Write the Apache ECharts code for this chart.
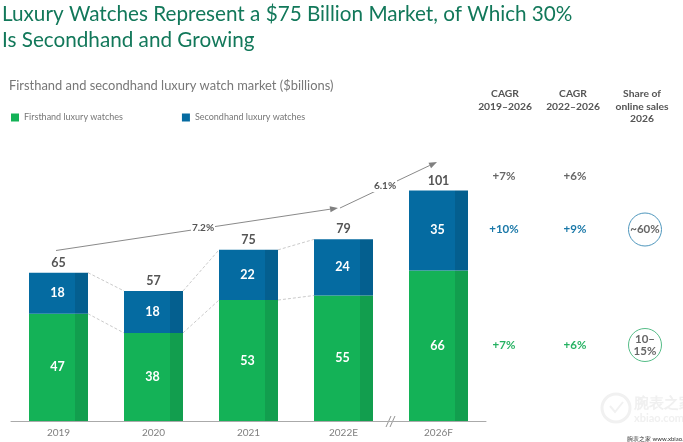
<!DOCTYPE html>
<html>
<head>
<meta charset="utf-8">
<style>html,body{margin:0;padding:0;background:#fff}#main{width:683px;height:442px}</style>
<script src="https://cdn.jsdelivr.net/npm/echarts@6/dist/echarts.min.js"></script>
</head>
<body>
<div id="main"></div>
<script>
var years = ['2019', '2020', '2021', '2022E', '2026F'];
// bar heights as measured on the picture, the printed numbers are rounded
var firsthand = [47, 38.6, 53, 55, 66];
var secondhand = [18, 18.4, 22, 24.6, 35];
var firsthandLabels = [47, 38, 53, 55, 66];
var secondhandLabels = [18, 18, 22, 24, 35];
var totals = [65, 57, 75, 79, 101];

// table on the right of the chart
var cagrHeaders = [['CAGR', '2019–2026'], ['CAGR', '2022–2026'], ['Share of', 'online sales', '2026']];
var cagrTotal = ['+7%', '+6%'];
var cagrSecond = ['+10%', '+9%'];
var cagrFirst = ['+7%', '+6%'];
var onlineShare = ['~60%', '10–\n15%'];

var GREEN = '#14b257', GREEN_DK = '#129e4e', BLUE = '#056ba1', BLUE_DK = '#045f8f';
var FONT = 'Lato, sans-serif';

var stackTops = firsthand.map(function (v, i) { return v + secondhand[i]; });

function strip(c, d) {
	// darker band on the right part of each bar
	return { type: 'linear', x: 0, y: 0, x2: 1, y2: 0, colorStops: [
		{ offset: 0, color: c }, { offset: 0.775, color: c }, { offset: 0.775, color: d }, { offset: 1, color: d }
	] };
}

function txt(x, y, s, size, color, weight, align) {
	return { type: 'text', x: x, y: y, style: { text: s, font: (weight || 'normal') + ' ' + size + 'px ' + FONT,
		fill: color, align: align || 'center', verticalAlign: 'middle', lineHeight: size + 2 } };
}
function arrow(x1, y1, x2, y2) {
	var a = Math.atan2(y2 - y1, x2 - x1), s = 8, w = 3;
	var bx = x2 - Math.cos(a) * s, by = y2 - Math.sin(a) * s;
	return [
		{ type: 'line', shape: { x1: x1, y1: y1, x2: bx, y2: by }, style: { stroke: '#8a8a8a', lineWidth: 1 } },
		{ type: 'polygon', shape: { points: [[x2, y2], [bx - Math.sin(a) * w, by + Math.cos(a) * w], [bx + Math.sin(a) * w, by - Math.cos(a) * w]] }, style: { fill: '#808080' } }
	];
}
function pctLabel(x, y, s) {
	return [
		{ type: 'rect', shape: { x: x - 12, y: y - 6, width: 24, height: 12 }, style: { fill: '#fff' } },
		txt(x, y, s, 10, '#555', 'bold')
	];
}

var graphics = [];
graphics.push(txt(9, 86, 'Firsthand and secondhand luxury watch market ($billions)', 12.9, '#777', 'normal', 'left'));
graphics = graphics.concat(arrow(56, 250.5, 338, 208), arrow(340, 208, 437, 162));
graphics = graphics.concat(pctLabel(203, 228, '7.2%'), pctLabel(385, 186, '6.1%'));

// table
[505, 573, 642].forEach(function (x, i) {
	cagrHeaders[i].forEach(function (s, j) {
		graphics.push(txt(x, 94 + j * 12.5, s, 10.3, '#555', 'bold'));
	});
});
[504, 575].forEach(function (x, i) {
	graphics.push(txt(x, 176, cagrTotal[i], 11.5, '#666', 'bold'));
	graphics.push(txt(x, 229.5, cagrSecond[i], 11.5, '#1a78a8', 'bold'));
	graphics.push(txt(x, 345, cagrFirst[i], 11.5, '#25b262', 'bold'));
});
graphics.push({ type: 'circle', shape: { cx: 645, cy: 229.5, r: 16.5 }, style: { fill: 'none', stroke: '#4f97bd', lineWidth: 1 } });
graphics.push({ type: 'circle', shape: { cx: 645, cy: 345, r: 16.5 }, style: { fill: 'none', stroke: '#56bd88', lineWidth: 1 } });
graphics.push(txt(645, 229.5, onlineShare[0], 11.5, '#666', 'bold'));
graphics.push({ type: 'text', x: 645, y: 345, style: { text: onlineShare[1], font: 'bold 11.5px ' + FONT, fill: '#666', align: 'center', verticalAlign: 'middle', lineHeight: 12 } });

// axis break
graphics.push({ type: 'rect', shape: { x: 388, y: 419, width: 5, height: 4 }, style: { fill: '#fff' } });
graphics.push({ type: 'line', shape: { x1: 386, y1: 427, x2: 391, y2: 416 }, style: { stroke: '#777', lineWidth: 0.8 } });
graphics.push({ type: 'line', shape: { x1: 390, y1: 427, x2: 395, y2: 416 }, style: { stroke: '#777', lineWidth: 0.8 } });

// watermark
graphics.push({ type: 'circle', shape: { cx: 616, cy: 408, r: 14 }, style: { fill: 'none', stroke: '#f1f1f1', lineWidth: 3 } });
graphics.push({ type: 'polyline', shape: { points: [[610, 406], [615, 412], [623, 402]] }, style: { fill: 'none', stroke: '#f1f1f1', lineWidth: 2 } });
graphics.push(txt(634, 403, '腕表之家', 15, '#f0f0f0', 'bold', 'left'));
graphics.push(txt(634, 418, 'xbiao.com', 11, '#f0f0f0', 'bold', 'left'));
graphics.push(txt(627, 439, '腕表之家 www.xbiao.com', 6, '#333', 'normal', 'left'));

var chart = echarts.init(document.getElementById('main'));
chart.setOption({
	animation: false,
	backgroundColor: '#fff',
	textStyle: { fontFamily: FONT },
	title: {
		text: 'Luxury Watches Represent a $75 Billion Market, of Which 30%\nIs Secondhand and Growing',
		left: 2, top: 1,
		padding: [0, 0, 0, 0],
		textStyle: { color: '#12785a', fontSize: 20.7, fontWeight: 'normal', lineHeight: 26, fontFamily: FONT }
	},
	legend: {
		left: 6, top: 108, itemWidth: 8, itemHeight: 8, itemGap: 59, icon: 'rect',
		textStyle: { color: '#777', fontSize: 9 },
		data: [
			{ name: 'Firsthand luxury watches', itemStyle: { color: GREEN } },
			{ name: 'Secondhand luxury watches', itemStyle: { color: BLUE } }
		]
	},
	grid: { left: 11, width: 475, top: 170, bottom: 21 },
	xAxis: {
		type: 'category', data: years,
		axisLine: { lineStyle: { color: '#aaa', width: 1 } },
		axisTick: { show: false },
		axisLabel: { color: '#808080', fontSize: 10, margin: 7 }
	},
	yAxis: { type: 'value', min: 0, max: 110, show: false },
	series: [
		{
			name: 'Firsthand luxury watches', type: 'bar', stack: 'm', barWidth: 59, data: firsthand,
			itemStyle: { color: strip(GREEN, GREEN_DK) },
			label: { show: true, position: 'inside', offset: [-1, 0], color: '#fff', fontWeight: 'bold', fontSize: 12.5,
				formatter: function (p) { return firsthandLabels[p.dataIndex]; } }
		},
		{
			name: 'Secondhand luxury watches', type: 'bar', stack: 'm', data: secondhand,
			itemStyle: { color: strip(BLUE, BLUE_DK) },
			label: { show: true, position: 'inside', offset: [-1, 0], color: '#fff', fontWeight: 'bold', fontSize: 12.5,
				formatter: function (p) { return secondhandLabels[p.dataIndex]; } }
		},
		{
			// totals above the bars
			name: 'total', type: 'line', data: stackTops, symbol: 'circle', symbolSize: 1,
			itemStyle: { color: 'rgba(0,0,0,0)' }, lineStyle: { opacity: 0 },
			label: { show: true, position: 'top', distance: 3, color: '#555', fontWeight: 'bold', fontSize: 12.5,
				formatter: function (p) { return totals[p.dataIndex]; } }
		},
		{
			// dashed connectors between bars, 2019 to 2022E only
			name: 'connect', type: 'custom', silent: true, z: 1,
			data: years.slice(0, 3).map(function (y, i) { return [i, i + 1]; }),
			renderItem: function (params, api) {
				var i = api.value(0), j = api.value(1), half = 29.5;
				var levels = [[firsthand[i], firsthand[j]], [stackTops[i], stackTops[j]]];
				return { type: 'group', children: levels.map(function (l) {
					var a = api.coord([i, l[0]]), b = api.coord([j, l[1]]);
					return { type: 'line', shape: { x1: a[0] + half, y1: a[1], x2: b[0] - half, y2: b[1] },
						style: { stroke: '#bdbdbd', lineWidth: 0.8, lineDash: [3, 2] } };
				}) };
			}
		}
	],
	graphic: graphics
});
</script>
</body>
</html>
